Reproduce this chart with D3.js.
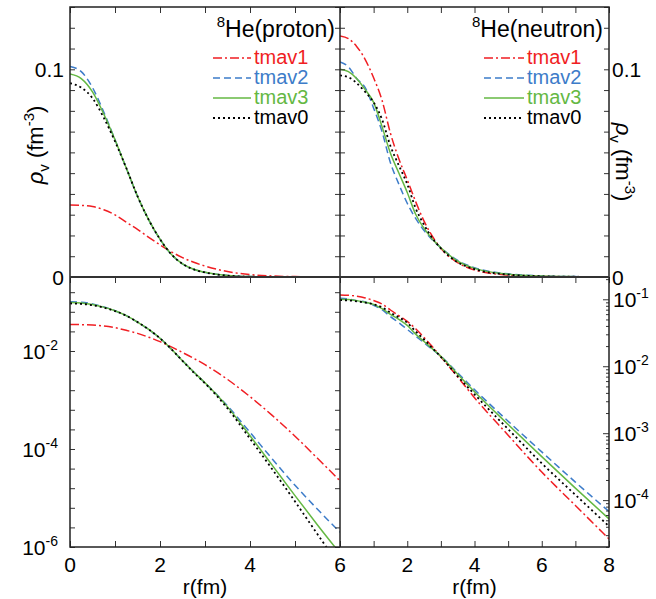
<!DOCTYPE html>
<html>
<head>
<meta charset="utf-8">
<script src="https://cdn.jsdelivr.net/npm/d3@7"></script>
<style>
  body { margin: 0; background: #fff; }
  text { font-family: "Liberation Sans", Arial, Helvetica, sans-serif; }
</style>
</head>
<body>
<svg width="656" height="599"></svg>
<script>
// radial grid (fm) and densities (fm^-3)
const rProton = [0, 0.25, 0.5, 0.75, 1, 1.25, 1.5, 1.75, 2, 2.25, 2.5, 2.75, 3, 3.5, 4, 4.5, 5, 5.5, 6];
const protonTmav1 = [0.0347, 0.0345, 0.0339, 0.0324, 0.0299, 0.0264, 0.0229, 0.0191, 0.0155, 0.01216, 0.00933, 0.00708, 0.00525, 0.00263, 0.00117, 4.79e-4, 1.82e-4, 6.46e-5, 2.24e-5];
const protonTmav2 = [0.1014, 0.0989, 0.0912, 0.0794, 0.0661, 0.0525, 0.0389, 0.0275, 0.0182, 0.01096, 0.00631, 0.00372, 0.00224, 7.59e-4, 2.19e-4, 6.17e-5, 1.82e-5, 5.89e-6, 2.0e-6];
const protonTmav3 = [0.0977, 0.0955, 0.0891, 0.0785, 0.0661, 0.0525, 0.0389, 0.0275, 0.0182, 0.01096, 0.00631, 0.00372, 0.00224, 7.24e-4, 1.86e-4, 4.57e-5, 1.12e-5, 2.82e-6, 7.4e-7];
const protonTmav0 = [0.0933, 0.0912, 0.0861, 0.0767, 0.0653, 0.0525, 0.0389, 0.0275, 0.0182, 0.01096, 0.00631, 0.00363, 0.00219, 6.76e-4, 1.62e-4, 3.80e-5, 8.5e-6, 1.82e-6, 4.0e-7];

const rNeutron = [0, 0.25, 0.5, 0.75, 1, 1.25, 1.5, 1.75, 2, 2.25, 2.5, 2.75, 3, 3.5, 4, 5, 6, 7, 8];
const neutronTmav1 = [0.1161, 0.1148, 0.1109, 0.1047, 0.0959, 0.0851, 0.0692, 0.0569, 0.0468, 0.0363, 0.0269, 0.0195, 0.0138, 0.00692, 0.00339, 9.33e-4, 2.63e-4, 8.32e-5, 2.63e-5];
const neutronTmav2 = [0.1035, 0.1012, 0.0955, 0.0912, 0.0813, 0.0700, 0.0550, 0.0447, 0.0355, 0.0282, 0.0224, 0.0178, 0.0141, 0.00794, 0.00447, 0.00151, 5.25e-4, 1.86e-4, 6.76e-5];
const neutronTmav3 = [0.1000, 0.0989, 0.0955, 0.0902, 0.0841, 0.0724, 0.0596, 0.0501, 0.0407, 0.0302, 0.0234, 0.0182, 0.0141, 0.00759, 0.00417, 0.00135, 4.47e-4, 1.51e-4, 5.25e-5];
const neutronTmav0 = [0.0971, 0.0962, 0.0933, 0.0891, 0.0841, 0.0759, 0.0631, 0.0537, 0.0447, 0.0331, 0.0251, 0.0186, 0.0138, 0.00708, 0.00380, 0.00115, 3.55e-4, 1.20e-4, 4.07e-5];

const seriesNames = ['tmav1', 'tmav2', 'tmav3', 'tmav0'];
const seriesColors = ['#f01e23', '#3d7cc9', '#64b843', '#000000'];
const seriesDash = ['9,3,2,3', '7,4', null, '2,3'];

const linTickLabels = [0, 0.1];
const logLabelsLeft = [-2, -4, -6];
const logLabelsRight = [-1, -2, -3, -4];
const xLabelsLeft = [0, 2, 4, 6];
const xLabelsRight = [2, 4, 6, 8];

const L = 70, M = 340, R = 609, T = 7, Z = 277, B = 547;

const svg = d3.select('svg');

const xL = d3.scaleLinear().domain([0, 6]).range([L, M]);
const xR = d3.scaleLinear().domain([0, 8]).range([M, R]);
const yLin = d3.scaleLinear().domain([0, 0.13]).range([Z, T]);
const yLogL = d3.scaleLog().domain([1e-6, Math.pow(10, -0.49)]).range([B, Z]);
const yLogR = d3.scaleLog().domain([Math.pow(10, -4.7), Math.pow(10, -0.667)]).range([B, Z]);

const defs = svg.append('defs');
function clip(id, x0, y0, x1, y1) {
  defs.append('clipPath').attr('id', id)
    .append('rect').attr('x', x0).attr('y', y0).attr('width', x1 - x0).attr('height', y1 - y0);
}
clip('c1', L, T, M, Z); clip('c2', M, T, R, Z); clip('c3', L, Z, M, B); clip('c4', M, Z, R, B);

function curves(clipId, x, y, r, list) {
  const g = svg.append('g').attr('clip-path', `url(#${clipId})`);
  list.forEach((vals, i) => {
    const line = d3.line().x((d, j) => x(r[j])).y(d => y(d)).curve(d3.curveMonotoneX);
    g.append('path').datum(vals)
      .attr('d', line)
      .attr('fill', 'none')
      .attr('stroke', seriesColors[i])
      .attr('stroke-width', i == 3 ? 1.8 : 1.5)
      .attr('stroke-dasharray', seriesDash[i]);
  });
}

// draw order: red, blue, green, black on top
curves('c1', xL, yLin, rProton, [protonTmav1, protonTmav2, protonTmav3, protonTmav0]);
curves('c2', xR, yLin, rNeutron, [neutronTmav1, neutronTmav2, neutronTmav3, neutronTmav0]);
curves('c3', xL, yLogL, rProton, [protonTmav1, protonTmav2, protonTmav3, protonTmav0]);
curves('c4', xR, yLogR, rNeutron, [neutronTmav1, neutronTmav2, neutronTmav3, neutronTmav0]);

// ticks (inward, no labels)
function ticks(axis, tx, ty) {
  svg.append('g').attr('transform', `translate(${tx},${ty})`).call(axis)
    .call(g => {
      g.select('.domain').remove();
      g.selectAll('text').remove();
      g.selectAll('line').attr('stroke', '#333').attr('stroke-width', 1);
    });
}
const linVals = d3.range(0, 0.1301, 0.01);
const uniformLog = d3.range(0, 14).map(k => Math.pow(10, -6 + 0.4 * k));
const minorLog = [];
for (let e = -5; e <= -1; e++) for (let k = 2; k <= 9; k++) minorLog.push(k * Math.pow(10, e));
const majorLog = [1e-4, 1e-3, 1e-2, 1e-1];

ticks(d3.axisTop(xL).tickValues(d3.range(0, 7)).tickSize(-6), 0, T);
ticks(d3.axisTop(xR).tickValues(d3.range(0, 9)).tickSize(-6), 0, T);
ticks(d3.axisTop(xL).tickValues(d3.range(0, 7)).tickSize(-6), 0, Z);
ticks(d3.axisTop(xR).tickValues(d3.range(0, 9)).tickSize(-6), 0, Z);
ticks(d3.axisBottom(xL).tickValues(d3.range(0, 7)).tickSize(-6), 0, B);
ticks(d3.axisBottom(xR).tickValues(d3.range(0, 9)).tickSize(-6), 0, B);
ticks(d3.axisLeft(yLin).tickValues(linVals).tickSize(-5), L, 0);
ticks(d3.axisRight(yLin).tickValues(linVals).tickSize(-5), M, 0);
ticks(d3.axisLeft(yLin).tickValues(linVals).tickSize(-5), M, 0);
ticks(d3.axisRight(yLin).tickValues(linVals).tickSize(-5), R, 0);
ticks(d3.axisLeft(yLogL).tickValues(uniformLog).tickSize(-5), L, 0);
ticks(d3.axisRight(yLogL).tickValues(uniformLog).tickSize(-5), M, 0);
ticks(d3.axisRight(yLogR).tickValues(majorLog).tickSize(-6), R, 0);
ticks(d3.axisRight(yLogR).tickValues(minorLog.filter(v => v > yLogR.domain()[0] && v < yLogR.domain()[1])).tickSize(-3), R, 0);

// frame
svg.append('rect').attr('x', L).attr('y', T).attr('width', R - L).attr('height', B - T)
  .attr('fill', 'none').attr('stroke', '#222').attr('stroke-width', 1.5);
svg.append('line').attr('x1', M).attr('x2', M).attr('y1', T).attr('y2', B)
  .attr('stroke', '#222').attr('stroke-width', 1.5);
svg.append('line').attr('x1', L).attr('x2', R).attr('y1', Z).attr('y2', Z)
  .attr('stroke', '#333').attr('stroke-width', 2);

const FS = 21;

// linear tick labels
linTickLabels.forEach(v => {
  svg.append('text').attr('x', L - 6).attr('y', yLin(v)).attr('dy', '0.36em')
    .attr('text-anchor', 'end').attr('font-size', FS).text(v);
  svg.append('text').attr('x', R + 3).attr('y', yLin(v)).attr('dy', '0.36em')
    .attr('text-anchor', 'start').attr('font-size', FS).text(v);
});

// log tick labels
function powLabel(x, y, e, anchor) {
  const t = svg.append('text').attr('x', x).attr('y', y).attr('dy', '0.36em')
    .attr('text-anchor', anchor).attr('font-size', FS);
  t.append('tspan').text('10');
  t.append('tspan').attr('font-size', 14).attr('dy', -9).text('-' + Math.abs(e));
}
logLabelsLeft.forEach(e => powLabel(L - 12, yLogL(Math.pow(10, e)), e, 'end'));
logLabelsRight.forEach(e => powLabel(R + 4, yLogR(Math.pow(10, e)), e, 'start'));

// x tick labels
xLabelsLeft.forEach(v => svg.append('text').attr('x', xL(v)).attr('y', 572)
  .attr('text-anchor', 'middle').attr('font-size', FS).text(v));
xLabelsRight.forEach(v => svg.append('text').attr('x', xR(v)).attr('y', 572)
  .attr('text-anchor', 'middle').attr('font-size', FS).text(v));

// axis titles
svg.append('text').attr('x', (L + M) / 2).attr('y', 594).attr('text-anchor', 'middle')
  .attr('font-size', FS).text('r(fm)');
svg.append('text').attr('x', (M + R) / 2).attr('y', 594).attr('text-anchor', 'middle')
  .attr('font-size', FS).text('r(fm)');

function rhoLabel(x, y, angle) {
  const t = svg.append('text').attr('transform', `translate(${x},${y}) rotate(${angle})`)
    .attr('text-anchor', 'middle').attr('font-size', 22);
  t.append('tspan').attr('font-style', 'italic').text('ρ');
  t.append('tspan').attr('font-size', 15).attr('dy', 6).text('v');
  t.append('tspan').attr('dy', -6).text(' (fm');
  t.append('tspan').attr('font-size', 15).attr('dy', -9).text('-3');
  t.append('tspan').attr('dy', 9).text(')');
}
rhoLabel(43, 145, -90);
rhoLabel(616, 162, 90);

// legends
function legend(titleRight, name, lineX0, textX) {
  const t = svg.append('text').attr('x', titleRight).attr('y', 37)
    .attr('text-anchor', 'end').attr('font-size', 23);
  t.append('tspan').attr('font-size', 15).attr('dy', -10).text('8');
  t.append('tspan').attr('dy', 10).text('He(' + name + ')');
  seriesNames.forEach((s, i) => {
    const yb = 64 + 20 * i;
    svg.append('line').attr('x1', lineX0).attr('x2', textX - 3).attr('y1', yb - 6).attr('y2', yb - 6)
      .attr('stroke', seriesColors[i]).attr('stroke-width', i == 3 ? 1.8 : 1.5)
      .attr('stroke-dasharray', seriesDash[i]);
    svg.append('text').attr('x', textX).attr('y', yb).attr('font-size', 20)
      .attr('fill', seriesColors[i]).text(s);
  });
}
legend(335, 'proton', 213, 254);
legend(603, 'neutron', 484, 527);
</script>
</body>
</html>
